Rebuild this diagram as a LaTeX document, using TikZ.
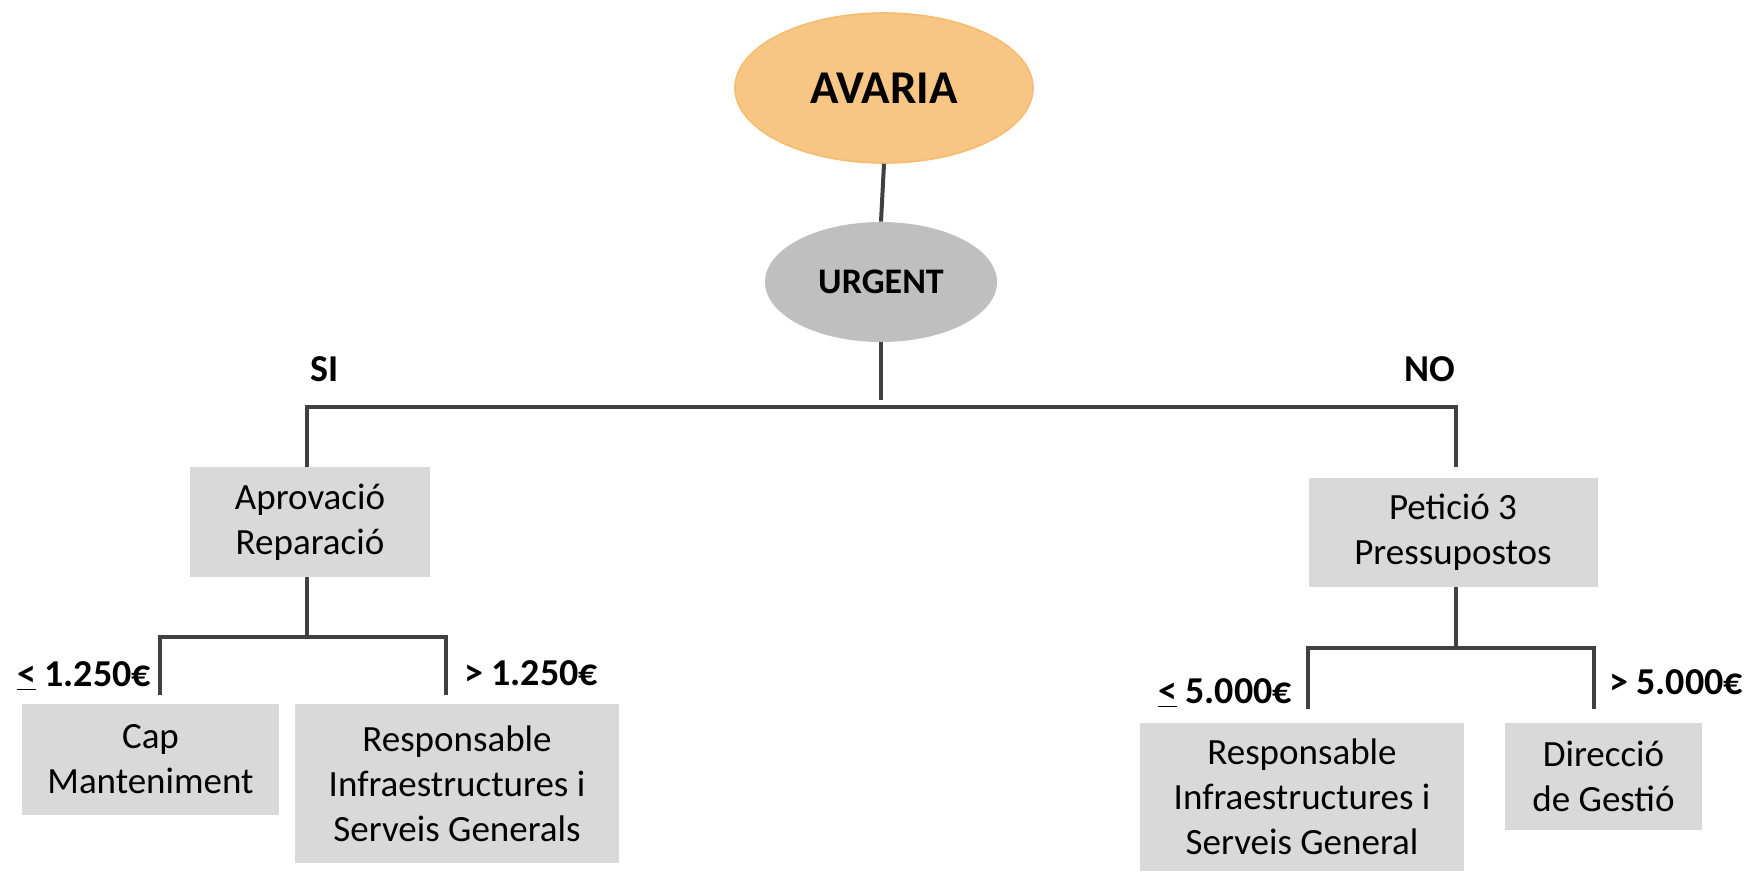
\documentclass[tikz,border=0pt]{standalone}
\usepackage{fontspec}
\setmainfont{Carlito}
\usetikzlibrary{shapes.geometric}
\usetikzlibrary{positioning}

\definecolor{avariafill}{RGB}{248,198,132}
\definecolor{avariaedge}{RGB}{245,188,112}
\definecolor{urgentgray}{RGB}{191,191,191}
\definecolor{boxgray}{RGB}{217,217,217}
\definecolor{linkgray}{RGB}{64,64,64}

\begin{document}
\begin{tikzpicture}[
    x=0.5pt, y=-0.5pt,
    root/.style={ellipse, fill=avariafill, draw=avariaedge, line width=0.8pt, minimum width=149pt, minimum height=75pt, font=\bfseries\fontsize{23.5}{28}\selectfont},
    question/.style={ellipse, fill=urgentgray, minimum width=116pt, minimum height=60pt, font=\bfseries\fontsize{18}{22}\selectfont},
    box/.style={rectangle, fill=boxgray, align=center, inner sep=0pt, font=\fontsize{18.5}{22.4}\selectfont},
    cond/.style={inner sep=0pt, font=\bfseries\fontsize{19}{22}\selectfont},
    link/.style={draw=linkgray, line width=2pt}
]

\useasboundingbox (0,0) rectangle (1752,875);

\node[root] (avaria) at (884,88) {AVARIA};
\node[question] (urgent) at (881,282) {URGENT};

\node[box, minimum width=120pt, minimum height=55pt] (aprov) at (310,522) {Aprovació\\Reparació};
\node[box, minimum width=144.5pt, minimum height=54.5pt] (petic) at (1453,532) {Petició 3\\Pressupostos};

\node[box, minimum width=128.5pt, minimum height=55.5pt] (cap) at (150.5,759.5) {Cap\\Manteniment};
\node[box, minimum width=162pt, minimum height=79.5pt] (resp_si) at (457,783.5) {Responsable\\Infraestructures i\\Serveis Generals};
\node[box, minimum width=162pt, minimum height=74pt] (resp_no) at (1302,797) {Responsable\\Infraestructures i\\Serveis General};
\node[box, minimum width=98.5pt, minimum height=53.5pt] (direc) at (1603.5,776.5) {Direcció\\de Gestió};

% labels
\node[cond] (si_label) at (325,369) {SI};
\node[cond] (no_label) at (1430,369) {NO};
\node[cond] (cap_cond) at (84,676) {\underline{<} 1.250€};
\node[cond] (resp_si_cond) at (531,673) {> 1.250€};
\node[cond] (resp_no_cond) at (1225,693) {\underline{<} 5.000€};
\node[cond] (direc_cond) at (1676,682) {> 5.000€};

% corners of the tree
\coordinate (si_corner) at (307,407);
\coordinate (no_corner) at (1456,407);
\coordinate (no_drop) at (1456,467);
\coordinate (cap_corner) at (160,637);
\coordinate (resp_si_corner) at (446,637);
\coordinate (resp_no_corner) at (1308,648);
\coordinate (direc_corner) at (1594,648);

\draw[link] (avaria.south) -- (urgent.north);
\draw[link] (urgent.south) -- ++(0,58);

\draw[link] (aprov.north -| si_corner) -- (si_corner) -- (no_corner) -- (no_drop);

\draw[link] (aprov.south -| si_corner) -- (si_corner |- cap_corner);
\draw[link] (cap_corner) ++(0,58) -- (cap_corner) -- (resp_si_corner) -- ++(0,58);

\draw[link] (petic.south -| no_corner) -- (no_corner |- resp_no_corner);
\draw[link] (resp_no_corner) ++(0,61) -- (resp_no_corner) -- (direc_corner) -- ++(0,61);

\end{tikzpicture}
\end{document}
